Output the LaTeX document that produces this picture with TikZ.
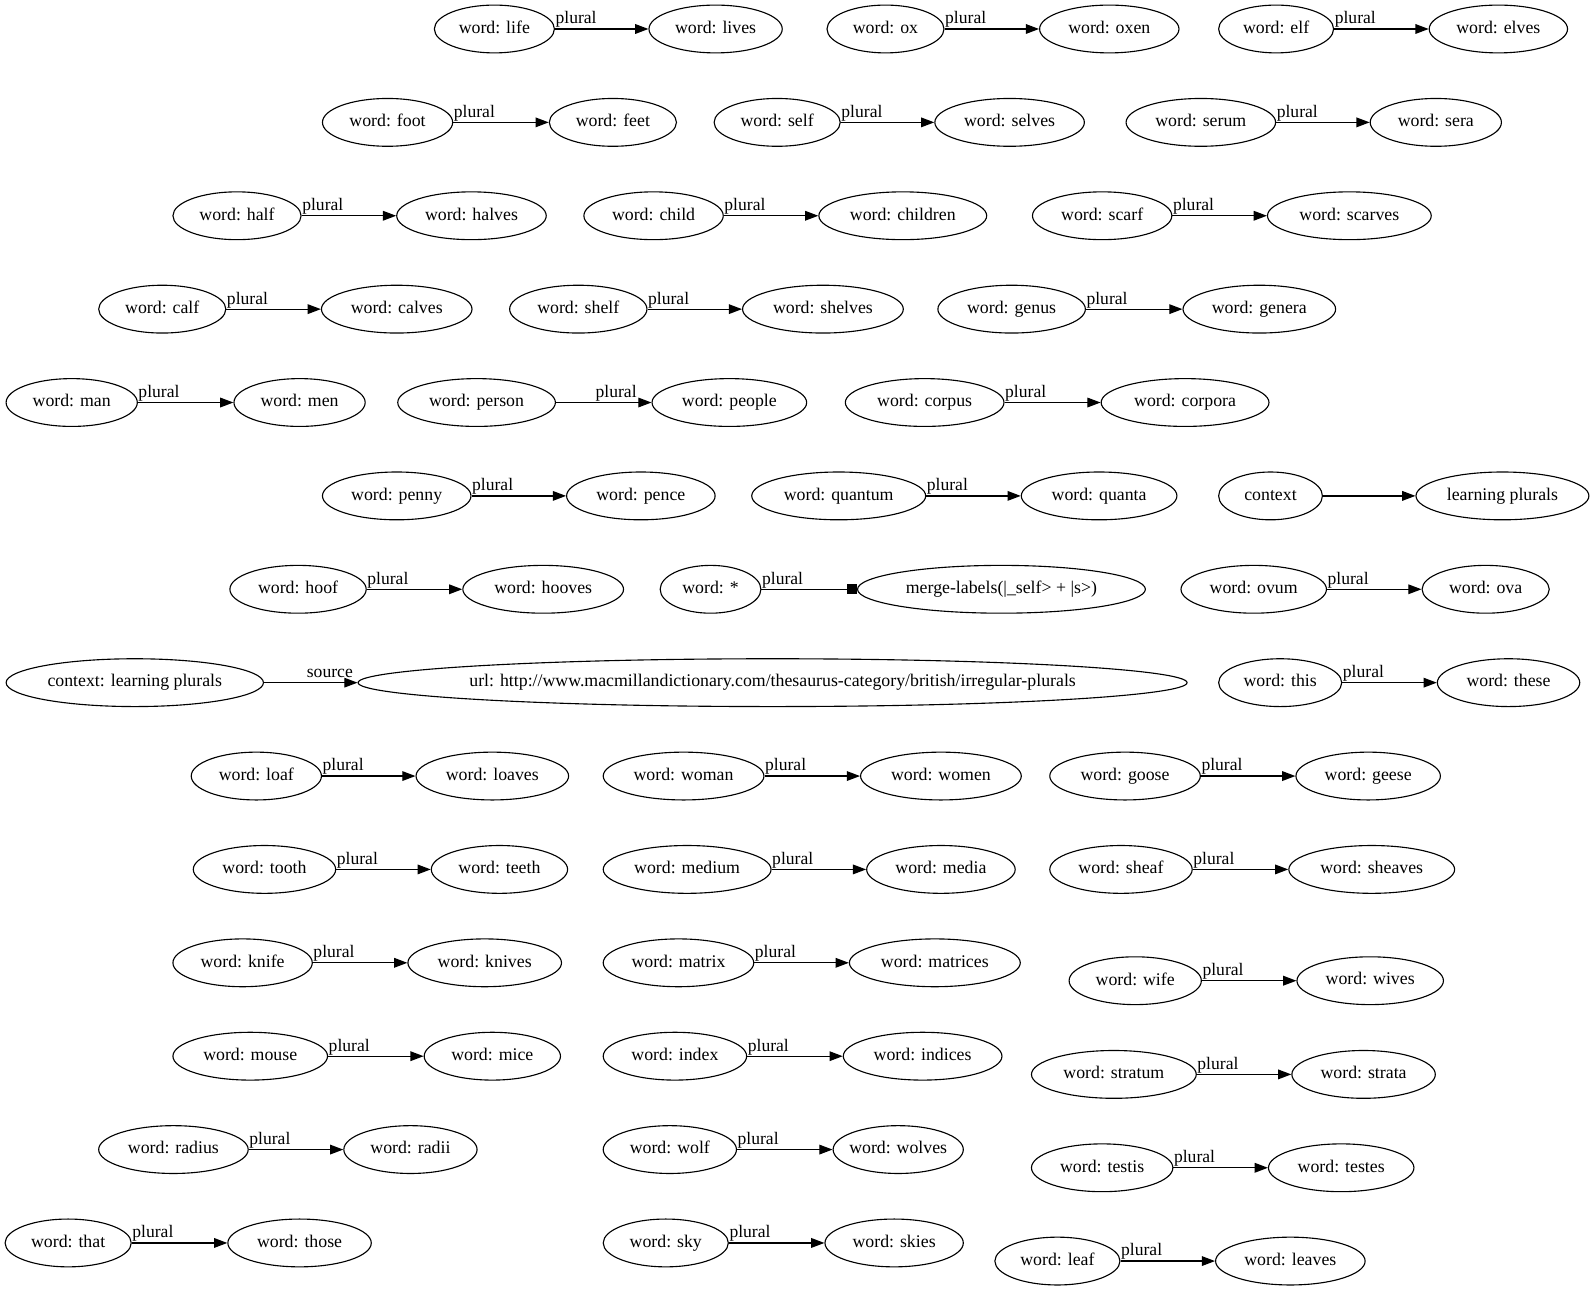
\documentclass[tikz,border=0pt]{standalone}
\usepackage{fontspec}
\setmainfont{Liberation Serif}
\usetikzlibrary{arrows.meta,shapes.geometric}
\newcommand\wn[5]{\node[el,minimum width=#4pt] (#1) at (#2,#3) {\makebox[0pt]{\vphantom{lp}#5}};}
\newcommand\pl[2]{\draw[arr] (#1) -- (#2) node[lab,at start,anchor=base west,yshift=5pt]{plural};}
\begin{document}
\begin{tikzpicture}[x=1pt,y=-1pt,
  el/.style={draw, ellipse, line width=1.1pt, inner sep=0pt, minimum height=47pt, font=\fontsize{17.5}{20}\selectfont},
  arr/.style={line width=1.2pt, -{Triangle[length=13pt,width=9.5pt]}},
  boxarr/.style={line width=1.2pt, -{Square[length=10pt,width=10pt]}},
  lab/.style={inner sep=0pt, font=\fontsize{17.3}{19}\selectfont}]
\useasboundingbox (0,0) rectangle (1568,1269);
% row 1
\wn{life}{486}{28.5}{118}{word: life}
\wn{lives}{703.5}{28.5}{131}{word: lives}
\wn{ox}{870.5}{28.5}{115}{word: ox}
\wn{oxen}{1090.5}{28.5}{137}{word: oxen}
\wn{elf}{1254.5}{28.5}{113}{word: elf}
\wn{elves}{1473}{28.5}{136}{word: elves}
% row 2
\wn{foot}{381}{120.3}{128}{word: foot}
\wn{feet}{602.5}{120.3}{125}{word: feet}
\wn{self}{764}{120.3}{124}{word: self}
\wn{selves}{992.5}{120.3}{147}{word: selves}
\wn{serum}{1180.5}{120.3}{147}{word: serum}
\wn{sera}{1411.5}{120.3}{129}{word: sera}
% row 3
\wn{half}{233}{212.1}{126}{word: half}
\wn{halves}{463.5}{212.1}{147}{word: halves}
\wn{child}{642.5}{212.1}{137}{word: child}
\wn{children}{887.5}{212.1}{165}{word: children}
\wn{scarf}{1083.5}{212.1}{137}{word: scarf}
\wn{scarves}{1326.5}{212.1}{161}{word: scarves}
% row 4
\wn{calf}{159.5}{303.9}{125}{word: calf}
\wn{calves}{390}{303.9}{148}{word: calves}
\wn{shelf}{568.5}{303.9}{135}{word: shelf}
\wn{shelves}{809}{303.9}{158}{word: shelves}
\wn{genus}{994.5}{303.9}{145}{word: genus}
\wn{genera}{1238}{303.9}{150}{word: genera}
% row 5
\wn{man}{70.5}{395.7}{129}{word: man}
\wn{men}{294.5}{395.7}{129}{word: men}
\wn{person}{468.5}{395.7}{155}{word: person}
\wn{people}{717}{395.7}{152}{word: people}
\wn{corpus}{909}{395.7}{156}{word: corpus}
\wn{corpora}{1165}{395.7}{165}{word: corpora}
% row 6
\wn{penny}{390}{487.5}{146}{word: penny}
\wn{pence}{630}{487.5}{146}{word: pence}
\wn{quantum}{824.5}{487.5}{171}{word: quantum}
\wn{quanta}{1080.5}{487.5}{153}{word: quanta}
\wn{context}{1249}{487.5}{102}{context}
\wn{learning}{1477}{487.5}{170}{learning plurals}
% row 7
\wn{hoof}{293}{579.3}{134}{word: hoof}
\wn{hooves}{534}{579.3}{158}{word: hooves}
\wn{star}{698.5}{579.3}{99}{word: *}
\wn{merge}{984.5}{579.3}{283}{merge-labels(|\_self> + |s>)}
\wn{ovum}{1232.5}{579.3}{143}{word: ovum}
\wn{ova}{1460.5}{579.3}{125}{word: ova}
% row 8
\wn{ctx}{132.5}{671.1}{253}{context: learning plurals}
\wn{url}{759.5}{671.1}{815}{url: http://www.macmillandictionary.com/thesaurus-category/british/irregular-plurals}
\wn{this}{1258.5}{671.1}{121}{word: this}
\wn{these}{1483}{671.1}{140}{word: these}
% row 9
\wn{loaf}{252}{762.9}{128}{word: loaf}
\wn{loaves}{484}{762.9}{150}{word: loaves}
\wn{woman}{672}{762.9}{158}{word: woman}
\wn{women}{925}{762.9}{158}{word: women}
\wn{goose}{1106}{762.9}{148}{word: goose}
\wn{geese}{1345}{762.9}{142}{word: geese}
% row 10
\wn{tooth}{260}{854.7}{140}{word: tooth}
\wn{teeth}{491}{854.7}{134}{word: teeth}
\wn{medium}{675.5}{854.7}{165}{word: medium}
\wn{media}{925}{854.7}{146}{word: media}
\wn{sheaf}{1102}{854.7}{140}{word: sheaf}
\wn{sheaves}{1348.5}{854.7}{163}{word: sheaves}
% row 11
\wn{knife}{238.5}{946.5}{137}{word: knife}
\wn{knives}{476.5}{946.5}{151}{word: knives}
\wn{matrix}{667}{946.5}{148}{word: matrix}
\wn{matrices}{919}{946.5}{168}{word: matrices}
\wn{wife}{1116}{964.1}{130}{word: wife}
\wn{wives}{1347}{964.1}{144}{word: wives}
% row 12
\wn{mouse}{246}{1038.3}{152}{word: mouse}
\wn{mice}{484}{1038.3}{134}{word: mice}
\wn{index}{663.5}{1038.3}{141}{word: index}
\wn{indices}{907}{1038.3}{156}{word: indices}
\wn{stratum}{1095}{1056.2}{162}{word: stratum}
\wn{strata}{1340.5}{1056.2}{141}{word: strata}
% row 13
\wn{radius}{170.5}{1130.1}{147}{word: radius}
\wn{radii}{403.5}{1130.1}{131}{word: radii}
\wn{wolf}{658.5}{1130.1}{131}{word: wolf}
\wn{wolves}{883}{1130.1}{128}{word: wolves}
\wn{testis}{1083.5}{1148}{139}{word: testis}
\wn{testes}{1318.5}{1148}{143}{word: testes}
% row 14
\wn{that}{67}{1221.9}{124}{word: that}
\wn{those}{294.5}{1221.9}{141}{word: those}
\wn{sky}{654.5}{1221.9}{123}{word: sky}
\wn{skies}{879}{1221.9}{136}{word: skies}
\wn{leaf}{1039.5}{1239.7}{123}{word: leaf}
\wn{leaves}{1268.5}{1239.7}{147}{word: leaves}
% edges
\pl{life}{lives}\pl{ox}{oxen}\pl{elf}{elves}
\pl{foot}{feet}\pl{self}{selves}\pl{serum}{sera}
\pl{half}{halves}\pl{child}{children}\pl{scarf}{scarves}
\pl{calf}{calves}\pl{shelf}{shelves}\pl{genus}{genera}
\pl{man}{men}\pl{corpus}{corpora}
\draw[arr] (person) -- (people) node[lab,at end,anchor=base east,xshift=-14pt,yshift=5pt]{plural};
\pl{penny}{pence}\pl{quantum}{quanta}
\draw[arr] (context) -- (learning);
\pl{hoof}{hooves}\pl{ovum}{ova}
\draw[boxarr] (star) -- (merge) node[lab,at start,anchor=base west,yshift=5pt]{plural};
\draw[arr] (ctx) -- (url) node[lab,at end,anchor=base east,xshift=-4pt,yshift=5pt]{source};
\pl{this}{these}
\pl{loaf}{loaves}\pl{woman}{women}\pl{goose}{geese}
\pl{tooth}{teeth}\pl{medium}{media}\pl{sheaf}{sheaves}
\pl{knife}{knives}\pl{matrix}{matrices}\pl{wife}{wives}
\pl{mouse}{mice}\pl{index}{indices}\pl{stratum}{strata}
\pl{radius}{radii}\pl{wolf}{wolves}\pl{testis}{testes}
\pl{that}{those}\pl{sky}{skies}\pl{leaf}{leaves}
\end{tikzpicture}
\end{document}
